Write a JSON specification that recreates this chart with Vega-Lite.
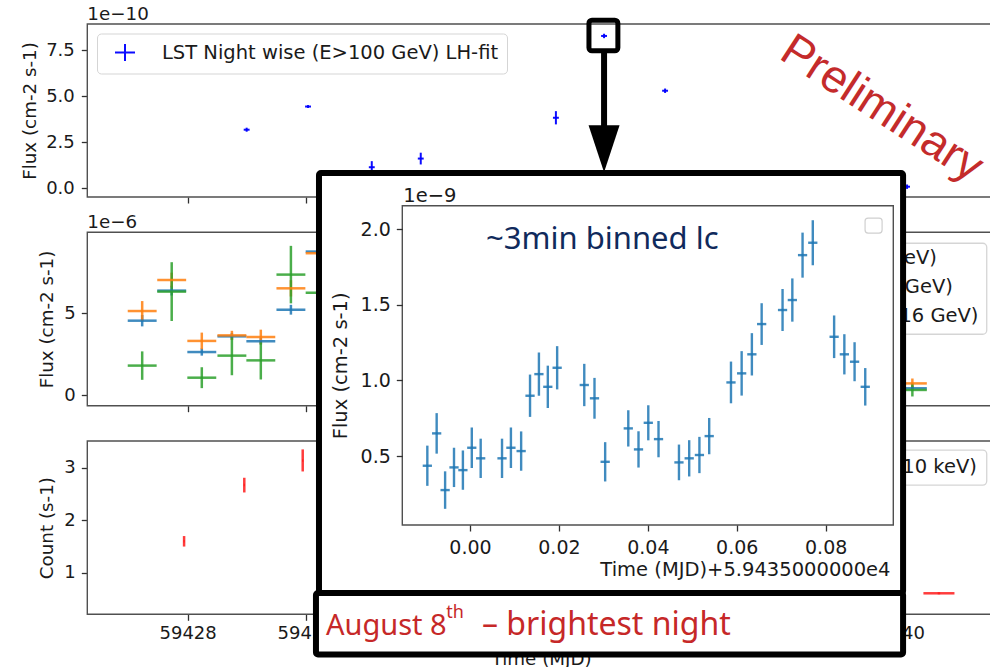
{
  "$schema": "https://vega.github.io/schema/vega-lite/v6.json",
  "width": 990,
  "height": 667,
  "autosize": {"type": "none"},
  "padding": 0,
  "background": "white",
  "config": {
    "view": {"stroke": null},
    "font": "DejaVu Sans",
    "axis": {
      "grid": false, "domain": false, "tickColor": "#303030", "tickWidth": 1.3, "tickSize": 6,
      "labelFont": "DejaVu Sans", "labelFontSize": 18, "labelColor": "#1a1a1a",
      "titleFont": "DejaVu Sans", "titleFontSize": 18.3, "titleFontWeight": "normal", "titleColor": "#1a1a1a",
      "labelPadding": 6
    }
  },
  "datasets": {
    "lst": [
      {"mjd": 59429.00, "mjd_err": 0.05, "flux": 3.19e-10, "flux_err": 0.11e-10, "series": "LST Night wise (E>100 GeV) LH-fit"},
      {"mjd": 59430.04, "mjd_err": 0.05, "flux": 4.45e-10, "flux_err": 0.08e-10, "series": "LST Night wise (E>100 GeV) LH-fit"},
      {"mjd": 59431.12, "mjd_err": 0.05, "flux": 1.15e-10, "flux_err": 0.33e-10, "series": "LST Night wise (E>100 GeV) LH-fit"},
      {"mjd": 59431.95, "mjd_err": 0.05, "flux": 1.62e-10, "flux_err": 0.32e-10, "series": "LST Night wise (E>100 GeV) LH-fit"},
      {"mjd": 59434.24, "mjd_err": 0.05, "flux": 3.84e-10, "flux_err": 0.36e-10, "series": "LST Night wise (E>100 GeV) LH-fit"},
      {"mjd": 59435.056, "mjd_err": 0.05, "flux": 8.29e-10, "flux_err": 0.12e-10, "series": "LST Night wise (E>100 GeV) LH-fit"},
      {"mjd": 59436.09, "mjd_err": 0.05, "flux": 5.31e-10, "flux_err": 0.12e-10, "series": "LST Night wise (E>100 GeV) LH-fit"},
      {"mjd": 59440.19, "mjd_err": 0.05, "flux": 0.09e-10, "flux_err": 0.12e-10, "series": "LST Night wise (E>100 GeV) LH-fit"}
    ],
    "fermi": [
      {"mjd": 59427.23, "mjd_err": 0.245, "flux": 4.55e-6, "flux_err": 0.35e-6, "band": "Fermi-LAT (0.1-1 GeV)"},
      {"mjd": 59427.73, "mjd_err": 0.245, "flux": 6.39e-6, "flux_err": 0.30e-6, "band": "Fermi-LAT (0.1-1 GeV)"},
      {"mjd": 59428.24, "mjd_err": 0.245, "flux": 2.63e-6, "flux_err": 0.22e-6, "band": "Fermi-LAT (0.1-1 GeV)"},
      {"mjd": 59428.75, "mjd_err": 0.245, "flux": 3.59e-6, "flux_err": 0.20e-6, "band": "Fermi-LAT (0.1-1 GeV)"},
      {"mjd": 59429.24, "mjd_err": 0.245, "flux": 3.29e-6, "flux_err": 0.20e-6, "band": "Fermi-LAT (0.1-1 GeV)"},
      {"mjd": 59429.75, "mjd_err": 0.245, "flux": 5.22e-6, "flux_err": 0.30e-6, "band": "Fermi-LAT (0.1-1 GeV)"},
      {"mjd": 59430.245, "mjd_err": 0.245, "flux": 8.78e-6, "flux_err": 0.30e-6, "band": "Fermi-LAT (0.1-1 GeV)"},
      {"mjd": 59440.28, "mjd_err": 0.245, "flux": 0.41e-6, "flux_err": 0.15e-6, "band": "Fermi-LAT (0.1-1 GeV)"},
      {"mjd": 59427.23, "mjd_err": 0.245, "flux": 5.14e-6, "flux_err": 0.61e-6, "band": "Fermi-LAT (0.1-10 GeV)"},
      {"mjd": 59427.73, "mjd_err": 0.245, "flux": 7.04e-6, "flux_err": 0.45e-6, "band": "Fermi-LAT (0.1-10 GeV)"},
      {"mjd": 59428.24, "mjd_err": 0.245, "flux": 3.31e-6, "flux_err": 0.51e-6, "band": "Fermi-LAT (0.1-10 GeV)"},
      {"mjd": 59428.75, "mjd_err": 0.245, "flux": 3.65e-6, "flux_err": 0.28e-6, "band": "Fermi-LAT (0.1-10 GeV)"},
      {"mjd": 59429.24, "mjd_err": 0.245, "flux": 3.55e-6, "flux_err": 0.45e-6, "band": "Fermi-LAT (0.1-10 GeV)"},
      {"mjd": 59429.75, "mjd_err": 0.245, "flux": 6.53e-6, "flux_err": 0.50e-6, "band": "Fermi-LAT (0.1-10 GeV)"},
      {"mjd": 59430.245, "mjd_err": 0.245, "flux": 8.68e-6, "flux_err": 0.40e-6, "band": "Fermi-LAT (0.1-10 GeV)"},
      {"mjd": 59440.28, "mjd_err": 0.245, "flux": 0.71e-6, "flux_err": 0.30e-6, "band": "Fermi-LAT (0.1-10 GeV)"},
      {"mjd": 59427.23, "mjd_err": 0.245, "flux": 1.80e-6, "flux_err": 0.87e-6, "band": "Fermi-LAT (0.1-316 GeV)"},
      {"mjd": 59427.73, "mjd_err": 0.245, "flux": 6.33e-6, "flux_err": 1.80e-6, "band": "Fermi-LAT (0.1-316 GeV)"},
      {"mjd": 59428.24, "mjd_err": 0.245, "flux": 1.06e-6, "flux_err": 0.64e-6, "band": "Fermi-LAT (0.1-316 GeV)"},
      {"mjd": 59428.75, "mjd_err": 0.245, "flux": 2.41e-6, "flux_err": 1.20e-6, "band": "Fermi-LAT (0.1-316 GeV)"},
      {"mjd": 59429.24, "mjd_err": 0.245, "flux": 2.12e-6, "flux_err": 1.17e-6, "band": "Fermi-LAT (0.1-316 GeV)"},
      {"mjd": 59429.75, "mjd_err": 0.245, "flux": 7.37e-6, "flux_err": 1.76e-6, "band": "Fermi-LAT (0.1-316 GeV)"},
      {"mjd": 59430.245, "mjd_err": 0.245, "flux": 6.26e-6, "flux_err": 1.50e-6, "band": "Fermi-LAT (0.1-316 GeV)"},
      {"mjd": 59440.28, "mjd_err": 0.245, "flux": 0.31e-6, "flux_err": 0.40e-6, "band": "Fermi-LAT (0.1-316 GeV)"}
    ],
    "xrt": [
      {"mjd": 59427.94, "mjd_err": 0.01, "rate": 1.60, "rate_err": 0.10},
      {"mjd": 59428.96, "mjd_err": 0.01, "rate": 2.67, "rate_err": 0.14},
      {"mjd": 59429.95, "mjd_err": 0.01, "rate": 3.14, "rate_err": 0.21},
      {"mjd": 59440.73, "mjd_err": 0.263, "rate": 0.61, "rate_err": 0.02}
    ],
    "lc3min": [
      {"mjd": 59434.9904, "mjd_err": 0.00104, "flux": 4.36e-10, "flux_err": 1.33e-10},
      {"mjd": 59434.9925, "mjd_err": 0.00104, "flux": 6.50e-10, "flux_err": 1.34e-10},
      {"mjd": 59434.9944, "mjd_err": 0.00104, "flux": 2.75e-10, "flux_err": 1.24e-10},
      {"mjd": 59434.9964, "mjd_err": 0.00104, "flux": 4.25e-10, "flux_err": 1.30e-10},
      {"mjd": 59434.9984, "mjd_err": 0.00104, "flux": 4.07e-10, "flux_err": 1.30e-10},
      {"mjd": 59435.0004, "mjd_err": 0.00104, "flux": 5.55e-10, "flux_err": 1.34e-10},
      {"mjd": 59435.0024, "mjd_err": 0.00104, "flux": 4.85e-10, "flux_err": 1.30e-10},
      {"mjd": 59435.0072, "mjd_err": 0.00104, "flux": 4.85e-10, "flux_err": 1.30e-10},
      {"mjd": 59435.0092, "mjd_err": 0.00104, "flux": 5.55e-10, "flux_err": 1.34e-10},
      {"mjd": 59435.0115, "mjd_err": 0.00104, "flux": 5.33e-10, "flux_err": 1.30e-10},
      {"mjd": 59435.0135, "mjd_err": 0.00104, "flux": 8.99e-10, "flux_err": 1.40e-10},
      {"mjd": 59435.0155, "mjd_err": 0.00104, "flux": 1.042e-9, "flux_err": 1.43e-10},
      {"mjd": 59435.0175, "mjd_err": 0.00104, "flux": 9.58e-10, "flux_err": 1.40e-10},
      {"mjd": 59435.0196, "mjd_err": 0.00104, "flux": 1.084e-9, "flux_err": 1.43e-10},
      {"mjd": 59435.0257, "mjd_err": 0.00104, "flux": 9.70e-10, "flux_err": 1.40e-10},
      {"mjd": 59435.0280, "mjd_err": 0.00104, "flux": 8.82e-10, "flux_err": 1.35e-10},
      {"mjd": 59435.0304, "mjd_err": 0.00104, "flux": 4.62e-10, "flux_err": 1.30e-10},
      {"mjd": 59435.0356, "mjd_err": 0.00104, "flux": 6.83e-10, "flux_err": 1.20e-10},
      {"mjd": 59435.0379, "mjd_err": 0.00104, "flux": 5.44e-10, "flux_err": 1.20e-10},
      {"mjd": 59435.0401, "mjd_err": 0.00104, "flux": 7.20e-10, "flux_err": 1.16e-10},
      {"mjd": 59435.0424, "mjd_err": 0.00104, "flux": 6.12e-10, "flux_err": 1.20e-10},
      {"mjd": 59435.0470, "mjd_err": 0.00104, "flux": 4.58e-10, "flux_err": 1.18e-10},
      {"mjd": 59435.0493, "mjd_err": 0.00104, "flux": 4.85e-10, "flux_err": 1.20e-10},
      {"mjd": 59435.0516, "mjd_err": 0.00104, "flux": 5.07e-10, "flux_err": 1.20e-10},
      {"mjd": 59435.0538, "mjd_err": 0.00104, "flux": 6.32e-10, "flux_err": 1.20e-10},
      {"mjd": 59435.0587, "mjd_err": 0.00104, "flux": 9.87e-10, "flux_err": 1.38e-10},
      {"mjd": 59435.0611, "mjd_err": 0.00104, "flux": 1.047e-9, "flux_err": 1.47e-10},
      {"mjd": 59435.0634, "mjd_err": 0.00104, "flux": 1.173e-9, "flux_err": 1.40e-10},
      {"mjd": 59435.0656, "mjd_err": 0.00104, "flux": 1.373e-9, "flux_err": 1.38e-10},
      {"mjd": 59435.0703, "mjd_err": 0.00104, "flux": 1.466e-9, "flux_err": 1.39e-10},
      {"mjd": 59435.0725, "mjd_err": 0.00104, "flux": 1.532e-9, "flux_err": 1.43e-10},
      {"mjd": 59435.0748, "mjd_err": 0.00104, "flux": 1.829e-9, "flux_err": 1.49e-10},
      {"mjd": 59435.0771, "mjd_err": 0.00104, "flux": 1.911e-9, "flux_err": 1.49e-10},
      {"mjd": 59435.0819, "mjd_err": 0.00104, "flux": 1.289e-9, "flux_err": 1.41e-10},
      {"mjd": 59435.0842, "mjd_err": 0.00104, "flux": 1.173e-9, "flux_err": 1.33e-10},
      {"mjd": 59435.0865, "mjd_err": 0.00104, "flux": 1.124e-9, "flux_err": 1.29e-10},
      {"mjd": 59435.0889, "mjd_err": 0.00104, "flux": 9.58e-10, "flux_err": 1.24e-10}
    ]
  },
  "layer": [
    {
      "layer": [
        {
          "data": {"values": [{}]},
          "mark": {"type": "rect", "filled": false, "color": "#505050", "strokeWidth": 1.4},
          "encoding": {
            "x": {"datum": 59426.30, "type": "quantitative",
                  "scale": {"domain": [59426.30, 59441.68], "range": [87.3, 995], "nice": false, "zero": false},
                  "axis": {"orient": "bottom", "offset": -470, "values": [59428, 59430, 59432, 59434, 59436, 59438, 59440], "labels": false, "title": null, "zindex": 0}},
            "x2": {"datum": 59441.68},
            "y": {"datum": -0.47e-10, "type": "quantitative",
                  "scale": {"domain": [-0.47e-10, 8.94e-10], "range": [197, 24], "nice": false, "zero": false},
                  "axis": {"orient": "left", "offset": -87.3, "values": [0, 2.5e-10, 5e-10, 7.5e-10], "labelExpr": "format(datum.value * 1e10, '.1f')", "title": "Flux (cm-2 s-1)", "titleX": -57, "titleBaseline": "middle", "titleAngle": 270, "labelPadding": 7, "zindex": 0}},
            "y2": {"datum": 8.94e-10}
          }
        },
        {
          "data": {"name": "lst"},
          "mark": {"type": "errorbar", "thickness": 2, "opacity": 0.95},
          "encoding": {
            "x": {"field": "mjd", "type": "quantitative", "title": null},
            "y": {"field": "flux", "type": "quantitative", "title": "Flux (cm-2 s-1)"},
            "yError": {"field": "flux_err"},
            "color": {"field": "series", "type": "nominal", "scale": {"range": ["#0000ff"]},
                      "legend": {"orient": "none", "legendX": 97, "legendY": 33.5, "title": null, "padding": 8, "cornerRadius": 4,
                                 "strokeColor": "#d5d5d5", "fillColor": "white", "labelFont": "DejaVu Sans", "labelFontSize": 19.5,
                                 "labelColor": "#1a1a1a", "labelLimit": 0, "symbolType": "M-1,0H1M0,-0.85V0.85", "symbolSize": 400,
                                 "symbolStrokeWidth": 2, "symbolStrokeColor": "#0000ff", "symbolFillColor": "transparent",
                                 "symbolOffset": 9, "labelOffset": 26}}
          }
        },
        {
          "data": {"name": "lst"},
          "mark": {"type": "errorbar", "thickness": 2, "color": "#0000ff", "opacity": 0.95},
          "encoding": {
            "x": {"field": "mjd", "type": "quantitative", "title": null},
            "xError": {"field": "mjd_err"},
            "y": {"field": "flux", "type": "quantitative", "title": "Flux (cm-2 s-1)"}
          }
        },
        {
          "data": {"values": [{}]},
          "mark": {"type": "text", "text": "1e−10", "align": "left", "baseline": "alphabetic", "dy": -4, "fontSize": 18.3, "color": "#1a1a1a"},
          "encoding": {
            "x": {"datum": 59426.30, "type": "quantitative"},
            "y": {"datum": 8.94e-10, "type": "quantitative"}
          }
        },
        {
          "data": {"values": [{}]},
          "mark": {"type": "rect", "filled": false, "color": "black", "strokeWidth": 5, "cornerRadius": 3},
          "encoding": {
            "x": {"datum": 59434.80, "type": "quantitative"},
            "x2": {"datum": 59435.29},
            "y": {"datum": 9.15e-10, "type": "quantitative"},
            "y2": {"datum": 7.48e-10}
          }
        },
        {
          "data": {"values": [{}]},
          "mark": {"type": "rule", "color": "black", "strokeWidth": 6},
          "encoding": {
            "x": {"datum": 59435.056, "type": "quantitative"},
            "y": {"datum": 7.48e-10, "type": "quantitative"},
            "y2": {"datum": 3.26e-10}
          }
        },
        {
          "data": {"values": [{}]},
          "mark": {"type": "point", "shape": "M-0.66,-1L0.66,-1L0,1Z", "size": 2209, "filled": true, "color": "black", "opacity": 1, "strokeWidth": 0},
          "encoding": {
            "x": {"datum": 59435.056, "type": "quantitative"},
            "y": {"datum": 2.151e-10, "type": "quantitative"}
          }
        },
        {
          "data": {"values": [{}]},
          "mark": {"type": "text", "text": "Preliminary", "font": "Liberation Sans", "fontSize": 46, "angle": 33, "align": "left", "baseline": "alphabetic", "color": "#c42b2b"},
          "encoding": {
            "x": {"datum": 59438.0, "type": "quantitative"},
            "y": {"datum": 7.1e-10, "type": "quantitative"}
          }
        }
      ]
    },
    {
      "layer": [
        {
          "data": {"values": [{}]},
          "mark": {"type": "rect", "filled": false, "color": "#505050", "strokeWidth": 1.4},
          "encoding": {
            "x": {"datum": 59426.30, "type": "quantitative",
                  "scale": {"domain": [59426.30, 59441.68], "range": [87.3, 995], "nice": false, "zero": false},
                  "axis": {"orient": "bottom", "offset": -261.3, "values": [59428, 59430, 59432, 59434, 59436, 59438, 59440], "labels": false, "title": null, "zindex": 0}},
            "x2": {"datum": 59441.68},
            "y": {"datum": -0.655e-6, "type": "quantitative",
                  "scale": {"domain": [-0.655e-6, 9.96e-6], "range": [405.7, 232.3], "nice": false, "zero": false},
                  "axis": {"orient": "left", "offset": -87.3, "values": [0, 5e-6], "labelExpr": "format(datum.value * 1e6, '.0f')", "title": "Flux (cm-2 s-1)", "titleX": -40, "titleBaseline": "middle", "titleAngle": 270, "labelPadding": 6, "zindex": 0}},
            "y2": {"datum": 9.96e-6}
          }
        },
        {
          "data": {"name": "fermi"},
          "mark": {"type": "errorbar", "thickness": 2.5, "opacity": 0.85},
          "encoding": {
            "x": {"field": "mjd", "type": "quantitative", "title": null},
            "y": {"field": "flux", "type": "quantitative", "title": "Flux (cm-2 s-1)"},
            "yError": {"field": "flux_err"},
            "color": {"field": "band", "type": "nominal", "scale": {"domain": ["Fermi-LAT (0.1-1 GeV)", "Fermi-LAT (0.1-10 GeV)", "Fermi-LAT (0.1-316 GeV)"], "range": ["#1f77b4", "#ff7f0e", "#2ca02c"]}, "legend": null}
          }
        },
        {
          "data": {"name": "fermi"},
          "mark": {"type": "errorbar", "thickness": 2.5, "opacity": 0.85},
          "encoding": {
            "x": {"field": "mjd", "type": "quantitative", "title": null},
            "xError": {"field": "mjd_err"},
            "y": {"field": "flux", "type": "quantitative", "title": "Flux (cm-2 s-1)"},
            "color": {"field": "band", "type": "nominal", "legend": null}
          }
        },
        {
          "data": {"values": [{}]},
          "mark": {"type": "text", "text": "1e−6", "align": "left", "baseline": "alphabetic", "dy": -4, "fontSize": 18.3, "color": "#1a1a1a"},
          "encoding": {
            "x": {"datum": 59426.30, "type": "quantitative"},
            "y": {"datum": 9.96e-6, "type": "quantitative"}
          }
        },
        {
          "data": {"values": [{}]},
          "mark": {"type": "rect", "fill": "white", "stroke": "#d5d5d5", "strokeWidth": 1.3, "cornerRadius": 4},
          "encoding": {
            "x": {"datum": 59436.68, "type": "quantitative"},
            "x2": {"datum": 59441.54},
            "y": {"datum": 9.29e-6, "type": "quantitative"},
            "y2": {"datum": 3.72e-6}
          }
        },
        {
          "data": {"values": [{}]},
          "mark": {"type": "text", "text": "Fermi-LAT (0.1-1 GeV)", "align": "right", "baseline": "middle", "fontSize": 19.5, "color": "#1a1a1a"},
          "encoding": {
            "x": {"datum": 59440.695, "type": "quantitative"},
            "y": {"datum": 8.39e-6, "type": "quantitative"}
          }
        },
        {
          "data": {"values": [{}]},
          "mark": {"type": "text", "text": "Fermi-LAT (0.1-10 GeV)", "align": "right", "baseline": "middle", "fontSize": 19.5, "color": "#1a1a1a"},
          "encoding": {
            "x": {"datum": 59440.966, "type": "quantitative"},
            "y": {"datum": 6.61e-6, "type": "quantitative"}
          }
        },
        {
          "data": {"values": [{}]},
          "mark": {"type": "text", "text": "Fermi-LAT (0.1-316 GeV)", "align": "right", "baseline": "middle", "fontSize": 19.5, "color": "#1a1a1a"},
          "encoding": {
            "x": {"datum": 59441.40, "type": "quantitative"},
            "y": {"datum": 4.84e-6, "type": "quantitative"}
          }
        }
      ]
    },
    {
      "layer": [
        {
          "data": {"values": [{}]},
          "mark": {"type": "rect", "filled": false, "color": "#505050", "strokeWidth": 1.4},
          "encoding": {
            "x": {"datum": 59426.30, "type": "quantitative",
                  "scale": {"domain": [59426.30, 59441.68], "range": [87.3, 995], "nice": false, "zero": false},
                  "axis": {"orient": "bottom", "offset": -52.7, "values": [59428, 59430, 59432, 59434, 59436, 59438, 59440], "format": "d", "title": "Time (MJD)", "titleY": 49.7, "titleBaseline": "alphabetic", "labelPadding": 4, "zindex": 0}},
            "x2": {"datum": 59441.68},
            "y": {"datum": 0.21, "type": "quantitative",
                  "scale": {"domain": [0.21, 3.51], "range": [614.3, 441], "nice": false, "zero": false},
                  "axis": {"orient": "left", "offset": -87.3, "values": [1, 2, 3], "format": "d", "title": "Count (s-1)", "titleX": -40, "titleBaseline": "middle", "titleAngle": 270, "labelPadding": 6, "zindex": 0}},
            "y2": {"datum": 3.51}
          }
        },
        {
          "data": {"name": "xrt"},
          "mark": {"type": "errorbar", "thickness": 2.5, "color": "#ff1a1a", "opacity": 0.85},
          "encoding": {
            "x": {"field": "mjd", "type": "quantitative", "title": "Time (MJD)"},
            "y": {"field": "rate", "type": "quantitative", "title": "Count (s-1)"},
            "yError": {"field": "rate_err"}
          }
        },
        {
          "data": {"name": "xrt"},
          "mark": {"type": "errorbar", "thickness": 2.5, "color": "#ff1a1a", "opacity": 0.85},
          "encoding": {
            "x": {"field": "mjd", "type": "quantitative", "title": "Time (MJD)"},
            "xError": {"field": "mjd_err"},
            "y": {"field": "rate", "type": "quantitative", "title": "Count (s-1)"}
          }
        },
        {
          "data": {"values": [{}]},
          "mark": {"type": "rect", "fill": "white", "stroke": "#d5d5d5", "strokeWidth": 1.3, "cornerRadius": 4},
          "encoding": {
            "x": {"datum": 59436.68, "type": "quantitative"},
            "x2": {"datum": 59441.54},
            "y": {"datum": 3.337, "type": "quantitative"},
            "y2": {"datum": 2.67}
          }
        },
        {
          "data": {"values": [{}]},
          "mark": {"type": "text", "text": "Swift-XRT (0.3-10 keV)", "align": "right", "baseline": "middle", "fontSize": 19.5, "color": "#1a1a1a"},
          "encoding": {
            "x": {"datum": 59441.373, "type": "quantitative"},
            "y": {"datum": 3.013, "type": "quantitative"}
          }
        }
      ]
    },
    {
      "layer": [
        {
          "data": {"values": [{}]},
          "mark": {"type": "rect", "fill": "white", "stroke": "black", "strokeWidth": 6, "cornerRadius": 2},
          "encoding": {
            "x": {"datum": 59434.96603, "type": "quantitative",
                  "scale": {"domain": [59434.98477, 59435.09521], "range": [402.3, 893.3], "nice": false, "zero": false},
                  "axis": {"orient": "bottom", "offset": -142, "values": [59435, 59435.02, 59435.04, 59435.06, 59435.08], "labelExpr": "format(datum.value - 59435, '.2f')", "title": "Time (MJD)+5.9435000000e4", "titleX": 890, "titleY": 50, "titleAlign": "right", "titleBaseline": "alphabetic", "labelFontSize": 19, "titleFontSize": 19.5, "labelPadding": 7, "zindex": 1}},
            "x2": {"datum": 59435.09741},
            "y": {"datum": 2.3717e-9, "type": "quantitative",
                  "scale": {"domain": [0.044e-9, 2.156e-9], "range": [525, 205.7], "nice": false, "zero": false},
                  "axis": {"orient": "left", "offset": -402.3, "values": [5e-10, 1e-9, 1.5e-9, 2e-9], "labelExpr": "format(datum.value * 1e9, '.1f')", "title": "Flux (cm-2 s-1)", "titleX": -62, "titleBaseline": "middle", "titleAngle": 270, "labelFontSize": 19, "titleFontSize": 19.5, "labelPadding": 6, "zindex": 1}},
            "y2": {"datum": -0.406e-9}
          }
        },
        {
          "data": {"values": [{}]},
          "mark": {"type": "rect", "fill": "white", "stroke": "black", "strokeWidth": 6, "cornerRadius": 2},
          "encoding": {
            "x": {"datum": 59434.96535, "type": "quantitative"},
            "x2": {"datum": 59435.09741},
            "y": {"datum": -0.406e-9, "type": "quantitative"},
            "y2": {"datum": -0.8128e-9}
          }
        },
        {
          "data": {"values": [{}]},
          "mark": {"type": "rect", "filled": false, "color": "#505050", "strokeWidth": 1.4},
          "encoding": {
            "x": {"datum": 59434.98477, "type": "quantitative"},
            "x2": {"datum": 59435.09521},
            "y": {"datum": 0.044e-9, "type": "quantitative"},
            "y2": {"datum": 2.156e-9}
          }
        },
        {
          "data": {"values": [{}]},
          "mark": {"type": "rect", "fill": "white", "stroke": "#d0d0d0", "strokeWidth": 1.2, "cornerRadius": 3},
          "encoding": {
            "x": {"datum": 59435.08886, "type": "quantitative"},
            "x2": {"datum": 59435.09269},
            "y": {"datum": 2.074e-9, "type": "quantitative"},
            "y2": {"datum": 1.975e-9}
          }
        },
        {
          "data": {"name": "lc3min"},
          "mark": {"type": "errorbar", "thickness": 2.4, "color": "#1f77b4", "opacity": 0.85},
          "encoding": {
            "x": {"field": "mjd", "type": "quantitative", "title": "Time (MJD)+5.9435000000e4"},
            "y": {"field": "flux", "type": "quantitative", "title": "Flux (cm-2 s-1)"},
            "yError": {"field": "flux_err"}
          }
        },
        {
          "data": {"name": "lc3min"},
          "mark": {"type": "errorbar", "thickness": 2.4, "color": "#1f77b4", "opacity": 0.85},
          "encoding": {
            "x": {"field": "mjd", "type": "quantitative", "title": "Time (MJD)+5.9435000000e4"},
            "xError": {"field": "mjd_err"},
            "y": {"field": "flux", "type": "quantitative", "title": "Flux (cm-2 s-1)"}
          }
        },
        {
          "data": {"values": [{}]},
          "mark": {"type": "text", "text": "1e−9", "align": "left", "baseline": "alphabetic", "dx": 1, "dy": -4, "fontSize": 19.5, "color": "#1a1a1a"},
          "encoding": {
            "x": {"datum": 59434.98477, "type": "quantitative"},
            "y": {"datum": 2.156e-9, "type": "quantitative"}
          }
        },
        {
          "data": {"values": [{}]},
          "mark": {"type": "text", "text": "~3min binned lc", "font": "Noto Sans", "align": "left", "baseline": "alphabetic", "fontSize": 31, "color": "#102a5c"},
          "encoding": {
            "x": {"datum": 59435.0036, "type": "quantitative"},
            "y": {"datum": 1.869e-9, "type": "quantitative"}
          }
        },
        {
          "data": {"values": [{}]},
          "mark": {"type": "text", "text": "August 8", "font": "Noto Sans", "align": "left", "baseline": "alphabetic", "fontSize": 29, "color": "#c62828"},
          "encoding": {
            "x": {"datum": 59434.9676, "type": "quantitative"},
            "y": {"datum": -0.684e-9, "type": "quantitative"}
          }
        },
        {
          "data": {"values": [{}]},
          "mark": {"type": "text", "text": "th", "font": "Noto Sans", "align": "left", "baseline": "alphabetic", "fontSize": 18, "color": "#c62828"},
          "encoding": {
            "x": {"datum": 59434.99465, "type": "quantitative"},
            "y": {"datum": -0.5714e-9, "type": "quantitative"}
          }
        },
        {
          "data": {"values": [{}]},
          "mark": {"type": "text", "text": "– brightest night", "font": "Noto Sans", "align": "left", "baseline": "alphabetic", "fontSize": 32, "color": "#c62828"},
          "encoding": {
            "x": {"datum": 59435.0027, "type": "quantitative"},
            "y": {"datum": -0.684e-9, "type": "quantitative"}
          }
        }
      ]
    }
  ],
  "resolve": {
    "scale": {"x": "independent", "y": "independent", "color": "independent"},
    "axis": {"x": "independent", "y": "independent"},
    "legend": {"color": "independent"}
  }
}
